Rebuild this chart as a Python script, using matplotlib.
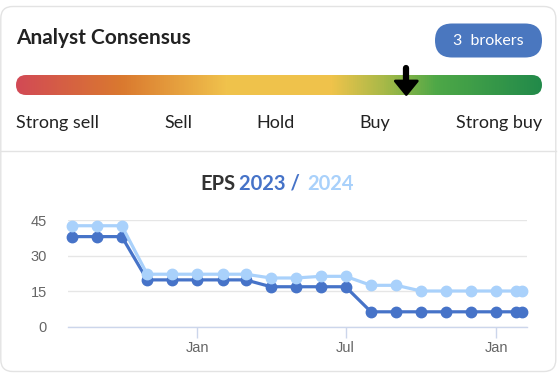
import matplotlib.pyplot as plt
import matplotlib.dates as mdates
import numpy as np
import pandas as pd
from matplotlib.patches import FancyBboxPatch
from matplotlib.colors import LinearSegmentedColormap

# rating scale
rating_labels = ['Strong sell', 'Sell', 'Hold', 'Buy', 'Strong buy']
consensus_pos = 0.742   # fraction along the bar
n_brokers = 3

# EPS estimates by date
dates = ['2022-08-01', '2022-09-01', '2022-10-01', '2022-11-01', '2022-12-01',
         '2023-01-01', '2023-02-01', '2023-03-01', '2023-04-01', '2023-05-01',
         '2023-06-01', '2023-07-01', '2023-08-01', '2023-09-01', '2023-10-01',
         '2023-11-01', '2023-12-01', '2024-01-01', '2024-01-25', '2024-02-01']
eps_2023 = [38.1, 38.1, 38.1, 19.8, 19.8, 19.8, 19.8, 19.8, 16.9, 16.9,
            16.9, 16.9, 6.3, 6.3, 6.3, 6.3, 6.3, 6.3, 6.3, 6.3]
eps_2024 = [42.7, 42.7, 42.7, 22.2, 22.2, 22.2, 22.2, 22.2, 20.6, 20.6,
            21.3, 21.3, 17.5, 17.5, 15.1, 15.1, 15.1, 15.1, 15.1, 15.1]
y_ticks = [0, 15, 30, 45]

dark_blue = '#4673c8'
light_blue = '#a9d1fb'

W, H = 558, 374
fig = plt.figure(figsize=(W / 100, H / 100), dpi=100)

# background axes in pixel coordinates
bg = fig.add_axes([0, 0, 1, 1])
bg.set_xlim(0, W)
bg.set_ylim(H, 0)
bg.axis('off')

card = FancyBboxPatch((0.8, 6.5), 555, 365, boxstyle='round,pad=0,rounding_size=12',
                      facecolor='white', edgecolor='#e3e3e3', lw=1, zorder=0)
bg.add_patch(card)
bg.plot([1, 556], [151, 151], color='#e3e3e3', lw=1)

bg.text(16, 43.5, 'Analyst Consensus', family='Lato', weight='bold', fontsize=15,
        color='#222222', va='baseline', ha='left')

badge = FancyBboxPatch((435, 23.5), 107, 34, boxstyle='round,pad=0,rounding_size=17',
                       facecolor='#4a77bf', edgecolor='none')
bg.add_patch(badge)
bg.text(488.5, 40.5, '%d  brokers' % n_brokers, family='Lato', fontsize=11.5,
        color='white', ha='center', va='center')

# gradient bar
stops = [(0.0, '#d24a55'), (0.2, '#da792f'), (0.4, '#f0c24c'), (0.6, '#efc34b'),
         (0.7, '#a8b948'), (0.8, '#4ea847'), (1.0, '#228a4a')]
cmap = LinearSegmentedColormap.from_list('consensus', stops)
bar_x0, bar_x1, bar_y0, bar_y1 = 16, 542, 75, 95
grad = np.linspace(0, 1, 512).reshape(1, -1)
im = bg.imshow(grad, extent=[bar_x0, bar_x1, bar_y1, bar_y0], cmap=cmap, aspect='auto',
               zorder=2)
clip = FancyBboxPatch((bar_x0, bar_y0), bar_x1 - bar_x0, bar_y1 - bar_y0,
                      boxstyle='round,pad=0,rounding_size=10', transform=bg.transData,
                      facecolor='none', edgecolor='none')
bg.add_patch(clip)
im.set_clip_path(clip)
bg.set_xlim(0, W)
bg.set_ylim(H, 0)

ax_x = bar_x0 + consensus_pos * (bar_x1 - bar_x0)
bg.plot([ax_x, ax_x], [68, 86], color='black', lw=4.5, solid_capstyle='round', zorder=3)
bg.fill([ax_x - 11, ax_x + 11, ax_x], [81, 81, 94.5], color='black', lw=2,
        edgecolor='black', joinstyle='round', zorder=3)

label_x = [16, 178, 276, 375, 542]
label_ha = ['left', 'center', 'center', 'center', 'right']
for lab, x, ha in zip(rating_labels, label_x, label_ha):
    bg.text(x, 127.5, lab, family='Lato', fontsize=13, color='#222222',
            ha=ha, va='baseline')

# title in three colours
t1 = bg.text(200, 189.5, 'EPS', family='Lato', weight='bold', fontsize=14.5,
             color='#333333', va='baseline', ha='left')
t2 = bg.annotate('2023 /', xy=(1, 0), xycoords=t1, xytext=(3, 0), textcoords='offset points',
                 family='Lato', weight='bold', fontsize=14.5, color=dark_blue, va='bottom')
bg.annotate('2024', xy=(1, 0), xycoords=t2, xytext=(5, 0), textcoords='offset points',
            family='Lato', weight='bold', fontsize=14.5, color=light_blue, va='bottom')

# EPS chart
left, right, top, bottom = 67.7, 526.7, 220.3, 326.7
ax = fig.add_axes([left / W, 1 - bottom / H, (right - left) / W, (bottom - top) / H])
x = pd.to_datetime(dates)
ax.plot(x, eps_2023, color=dark_blue, lw=2.3, marker='o', ms=7.5, clip_on=False, zorder=3)
ax.plot(x, eps_2024, color=light_blue, lw=2.3, marker='o', ms=7.5, clip_on=False, zorder=4)

ax.set_xlim(pd.Timestamp('2022-07-27'), pd.Timestamp('2024-02-07'))
ax.set_ylim(0, 45)
ax.set_yticks(y_ticks)
ax.grid(axis='y', color='#e6e6e6', lw=1)
ax.set_axisbelow(True)
for s in ['top', 'right', 'left']:
    ax.spines[s].set_visible(False)
ax.spines['bottom'].set_color('#ccd6eb')
ax.spines['bottom'].set_linewidth(1)

ax.xaxis.set_major_locator(mdates.MonthLocator(bymonth=[1, 7]))
ax.xaxis.set_major_formatter(mdates.DateFormatter('%b'))
ax.tick_params(axis='x', length=8, color='#ccd6eb', width=1, labelsize=10.5,
               labelcolor='#666666', pad=2)
ax.tick_params(axis='y', length=0, labelsize=10.5, labelcolor='#666666', pad=15)
for lab in ax.get_xticklabels() + ax.get_yticklabels():
    lab.set_family('Liberation Sans')

fig.savefig('out.png', dpi=100)
